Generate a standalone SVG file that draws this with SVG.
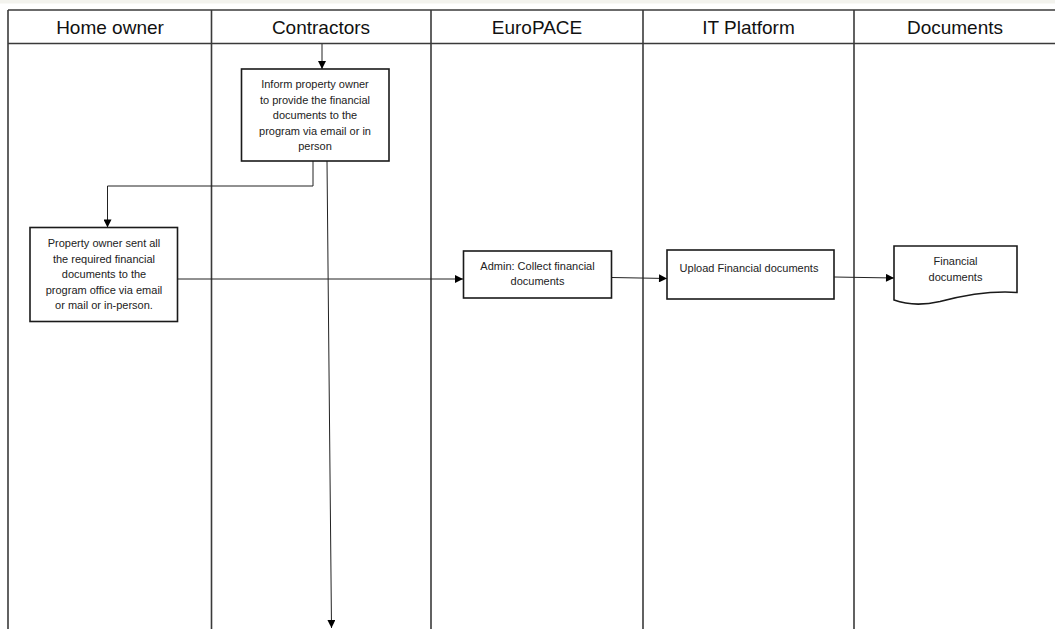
<svg xmlns="http://www.w3.org/2000/svg" width="1055" height="629" viewBox="0 0 1055 629">
  <style>
    .lane { stroke: #3a3a3a; stroke-width: 1.6; fill: none; }
    .hdr { font-family: "Liberation Sans", Arial, sans-serif; font-size: 19px; fill: #111; text-anchor: middle; }
    .box { fill: #ffffff; stroke: #1a1a1a; stroke-width: 1.6; }
    .txt { font-family: "Liberation Sans", Arial, sans-serif; font-size: 11px; fill: #222; text-anchor: middle; }
    .conn { stroke: #222; stroke-width: 1; fill: none; }
  </style>
  <defs>
    <marker id="arr" viewBox="0 0 10 10" refX="10" refY="5" markerWidth="9" markerHeight="8" markerUnits="userSpaceOnUse" orient="auto">
      <path d="M0,0 L10,5 L0,10 Z" fill="#000"/>
    </marker>
  </defs>
  <rect x="0" y="0" width="1055" height="629" fill="#ffffff"/>
  <rect x="0" y="0" width="1055" height="3.5" fill="#f3f3ee"/>

  <g id="swimlanes">
    <line class="lane" x1="8" y1="10" x2="1056" y2="10"/>
    <line class="lane" x1="8" y1="43.5" x2="1056" y2="43.5"/>
    <line class="lane" x1="8" y1="10" x2="8" y2="629"/>
    <line class="lane" x1="211.5" y1="10" x2="211.5" y2="629"/>
    <line class="lane" x1="431" y1="10" x2="431" y2="629"/>
    <line class="lane" x1="643" y1="10" x2="643" y2="629"/>
    <line class="lane" x1="854" y1="10" x2="854" y2="629"/>
    <text class="hdr" x="110" y="34">Home owner</text>
    <text class="hdr" x="321" y="34">Contractors</text>
    <text class="hdr" x="537" y="34">EuroPACE</text>
    <text class="hdr" x="748.5" y="34">IT Platform</text>
    <text class="hdr" x="955" y="34">Documents</text>
  </g>

  <g id="connectors">
    <line class="conn" x1="322" y1="44" x2="322" y2="69" marker-end="url(#arr)"/>
    <polyline class="conn" points="313,161 313,186 107.5,186 107.5,227.5" marker-end="url(#arr)"/>
    <line class="conn" x1="327" y1="161" x2="331.5" y2="628" marker-end="url(#arr)"/>
    <line class="conn" x1="178" y1="279" x2="463" y2="279" marker-end="url(#arr)"/>
    <line class="conn" x1="612" y1="277.5" x2="667" y2="278.5" marker-end="url(#arr)"/>
    <line class="conn" x1="834" y1="277" x2="894" y2="278" marker-end="url(#arr)"/>
  </g>

  <g id="node-inform">
    <rect class="box" x="241.5" y="69" width="147.5" height="92"/>
    <text class="txt" x="315" y="88">Inform property owner</text>
    <text class="txt" x="315" y="103.5">to provide the financial</text>
    <text class="txt" x="315" y="119">documents to the</text>
    <text class="txt" x="315" y="134.5">program via email or in</text>
    <text class="txt" x="315" y="150">person</text>
  </g>

  <g id="node-property-owner">
    <rect class="box" x="30" y="227.5" width="147.5" height="94"/>
    <text class="txt" x="104" y="247">Property owner sent all</text>
    <text class="txt" x="104" y="262.5">the required financial</text>
    <text class="txt" x="104" y="278">documents to the</text>
    <text class="txt" x="104" y="293.5">program office via email</text>
    <text class="txt" x="104" y="309">or mail or in-person.</text>
  </g>

  <g id="node-admin">
    <rect class="box" x="463.5" y="251" width="148" height="47"/>
    <text class="txt" x="537.5" y="269.5">Admin: Collect financial</text>
    <text class="txt" x="537.5" y="285">documents</text>
  </g>

  <g id="node-upload">
    <rect class="box" x="667" y="250" width="167" height="49"/>
    <text class="txt" x="749" y="272">Upload Financial documents</text>
  </g>

  <g id="node-financial-documents">
    <path class="box" d="M894,246 L1017,246 L1017,292.5 C990,290.5 965,295 940,301.5 C920,306 905,304 894,300 Z"/>
    <text class="txt" x="955.5" y="265">Financial</text>
    <text class="txt" x="955.5" y="281">documents</text>
  </g>
</svg>
